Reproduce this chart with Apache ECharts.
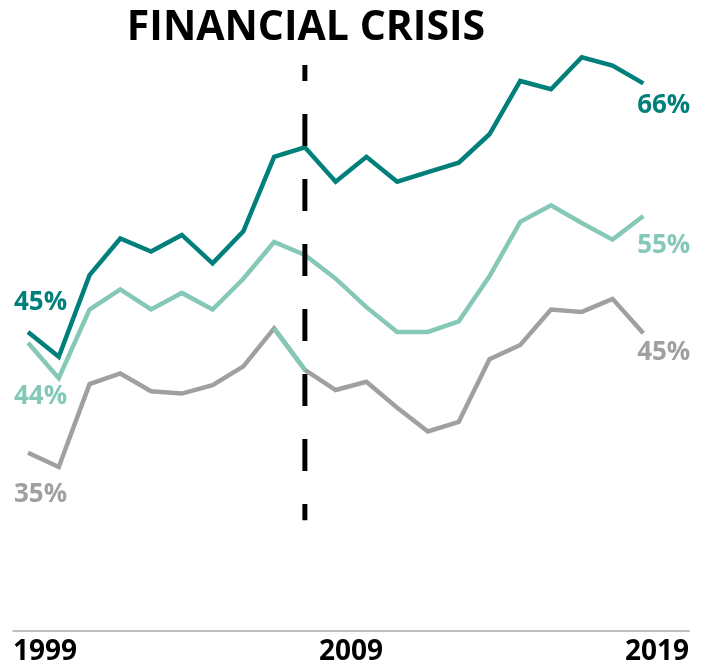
<!DOCTYPE html>
<html>
<head>
<meta charset="utf-8">
<script src="https://cdn.jsdelivr.net/npm/echarts@6/dist/echarts.min.js"></script>
<style>
html,body{margin:0;padding:0;background:#fff;}
#chart{width:705px;height:666px;}
</style>
</head>
<body>
<div id="chart"></div>
<script>
const years = [1999,2000,2001,2002,2003,2004,2005,2006,2007,2008,2009,2010,2011,2012,2013,2014,2015,2016,2017,2018,2019];
const darkSeries  = [45.0,42.9,49.8,52.9,51.8,53.2,50.8,53.5,59.8,60.6,57.7,59.8,57.7,58.5,59.3,61.7,66.2,65.5,68.2,67.5,66.0];
const lightSeries = [44.1,41.1,46.9,48.6,46.9,48.3,46.9,49.5,52.6,51.5,49.5,47.1,45.0,45.0,45.9,49.7,54.3,55.7,54.2,52.8,54.8];
const greySeries  = [34.8,33.6,40.6,41.5,40.0,39.8,40.5,42.1,45.3,41.8,40.1,40.8,38.6,36.6,37.4,42.7,43.9,46.9,46.7,47.8,44.9];
const axisYears = [1999, 2009, 2019];
const crisisYear = 2008;
const crisisRange = [67.55, 29.1];
const titleText = 'FINANCIAL CRISIS';

const C_DARK = '#007f7b', C_LIGHT = '#86c8b8', C_GREY = '#a0a0a0';
const FONT = '"Open Sans", "Noto Sans", sans-serif';

function buildData(vals, color, startOff, endOff) {
  return vals.map((v, i) => {
    const item = { value: [years[i], v] };
    let off = null;
    if (i === 0) off = startOff;
    if (i === vals.length - 1) off = endOff;
    if (off) {
      item.label = {
        show: true, position: [off.dx, off.dy], align: off.align, verticalAlign: 'middle',
        color: color, fontFamily: FONT, fontWeight: 'bold', fontSize: 26,
        formatter: p => Math.round(p.value[1]) + '%'
      };
    }
    return item;
  });
}

const chart = echarts.init(document.getElementById('chart'), null, { renderer: 'canvas' });

const lineBase = (name, data, color, z) => ({
  name, type: 'line', xAxisIndex: 0, yAxisIndex: 0, data,
  symbol: 'circle', symbolSize: 0.01, showSymbol: true, showAllSymbol: true,
  itemStyle: { color: color },
  lineStyle: { color: color, width: 4.5, cap: 'butt', join: 'miter' },
  label: { show: false },
  labelLayout: { hideOverlap: false },
  emphasis: { disabled: true }, animation: false, z: z
});

// segment of the grey line drawn in light teal in the reference (2007-2008)
const overlayIdx = [years.indexOf(2007), years.indexOf(2008)];
const overlayData = years.map((y, i) => overlayIdx.includes(i) ? [y, greySeries[i]] : [y, null]);

const option = {
  backgroundColor: '#fff',
  animation: false,
  grid: [
    { left: 28, right: 61.7, top: 36, bottom: 38 },
    { left: 13, right: 16, top: 600, bottom: 35 }
  ],
  xAxis: [
    { gridIndex: 0, type: 'value', min: 1999, max: 2019, show: false },
    { gridIndex: 1, type: 'value', min: 1999, max: 2019, interval: 10,
      axisLine: { show: true, lineStyle: { color: '#a8a8a8', width: 1.5 } },
      axisTick: { show: false }, splitLine: { show: false },
      axisLabel: { show: true, margin: 7, color: '#000', fontFamily: FONT, fontWeight: 'bold', fontSize: 28,
        alignMinLabel: 'left', alignMaxLabel: 'right',
        formatter: v => axisYears.includes(v) ? String(v) : '' } }
  ],
  yAxis: [
    { gridIndex: 0, type: 'value', min: 20, max: 70, show: false },
    { gridIndex: 1, type: 'value', min: 0, max: 1, show: false }
  ],
  graphic: [
    { type: 'text', x: 306, y: 28, style: { text: titleText, textAlign: 'center', textVerticalAlign: 'middle',
      font: 'bold 41px "Open Sans", "Noto Sans", sans-serif', fill: '#000' } }
  ],
  series: [
    lineBase('grey', buildData(greySeries, C_GREY, {align:'left', dx:-14, dy:42}, {align:'right', dx:47, dy:19}), C_GREY, 2),
    Object.assign(lineBase('greyOverlay', overlayData, C_LIGHT, 3), { showSymbol: false, connectNulls: false }),
    lineBase('light', buildData(lightSeries, C_LIGHT, {align:'left', dx:-14, dy:54}, {align:'right', dx:47, dy:30}), C_LIGHT, 4),
    lineBase('dark', buildData(darkSeries, C_DARK, {align:'left', dx:-14, dy:-29}, {align:'right', dx:47, dy:22}), C_DARK, 5),
    { name: 'crisis', type: 'line', xAxisIndex: 0, yAxisIndex: 0,
      data: [[crisisYear, crisisRange[0]], [crisisYear, crisisRange[1]]],
      showSymbol: false, symbol: 'none',
      lineStyle: { color: '#000', width: 5, type: [32, 33], dashOffset: 16, cap: 'butt' },
      emphasis: { disabled: true }, z: 6 }
  ]
};
chart.setOption(option);
</script>
</body>
</html>
